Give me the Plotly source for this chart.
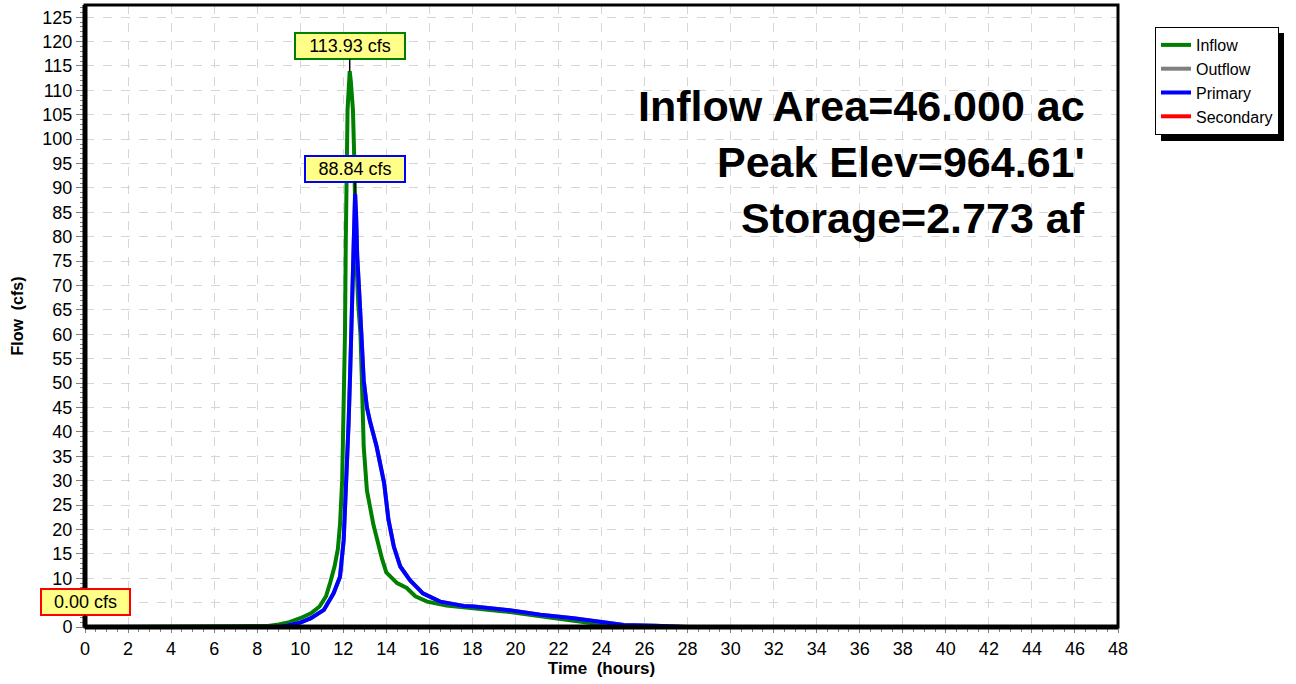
import plotly.graph_objects as go

# hydrograph values (hours, cfs)
inflow_hours = [0, 8.0, 8.5, 9.0, 9.5, 10.0, 10.5, 10.9, 11.2, 11.4, 11.6, 11.75, 11.85, 11.95,
                12.02, 12.08, 12.12, 12.16, 12.2, 12.25, 12.3, 12.35, 12.45, 12.5, 12.55, 12.6,
                12.7, 12.8, 12.87, 12.95, 13.1, 13.4, 13.8, 14.0, 14.5, 14.95, 15.35, 15.9,
                16.8, 18.0, 19.5, 21.0, 22.5, 23.5, 24.5, 25.0, 48]
inflow_cfs = [0, 0, 0.2, 0.5, 1.0, 1.8, 2.8, 4.2, 6.3, 9.2, 12.5, 16, 21, 30,
              42, 60, 80, 98, 106, 110, 113.93, 112, 106, 98, 88, 76,
              66, 60, 50, 37, 28, 21, 14, 11.2, 9.0, 8.0, 6.3, 5.2,
              4.4, 3.9, 3.2, 2.3, 1.5, 0.8, 0.2, 0, 0]

primary_hours = [0, 9.0, 9.4, 10.0, 10.5, 11.1, 11.55, 11.85, 12.02, 12.1, 12.17, 12.25,
                 12.32, 12.4, 12.45, 12.5, 12.55, 12.6, 12.65, 12.75, 12.85, 12.95, 13.1,
                 13.25, 13.55, 13.9, 14.1, 14.35, 14.65, 15.1, 15.7, 16.5, 17.6, 18.06,
                 19.6, 21.16, 22.7, 23.95, 25.04, 26.5, 27.4, 28.0, 48]
primary_cfs = [0, 0, 0.3, 0.9, 1.8, 3.5, 6.9, 10.3, 17.8, 25, 33.5, 42,
               52, 63, 72, 82, 88.84, 84, 76, 68, 60, 50.6, 45,
               42, 37, 29.5, 22, 16.5, 12.4, 9.6, 6.9, 5.2, 4.3, 4.2,
               3.5, 2.5, 1.8, 1.1, 0.4, 0.25, 0.1, 0, 0]

secondary_hours = [0, 48]
secondary_cfs = [0, 0]

# outflow = primary + secondary (secondary is zero)
outflow_hours = primary_hours
outflow_cfs = primary_cfs

peak_labels = ["113.93 cfs", "88.84 cfs", "0.00 cfs"]
info_lines = ["Inflow Area=46.000 ac", "Peak Elev=964.61'", "Storage=2.773 af"]

FONT = "Liberation Sans, Arial, sans-serif"
LW = 4

fig = go.Figure()
fig.add_trace(go.Scatter(x=inflow_hours, y=inflow_cfs, mode="lines", name="Inflow",
                         line=dict(color="#008000", width=LW)))
fig.add_trace(go.Scatter(x=outflow_hours, y=outflow_cfs, mode="lines", name="Outflow",
                         line=dict(color="#808080", width=LW)))
fig.add_trace(go.Scatter(x=primary_hours, y=primary_cfs, mode="lines", name="Primary",
                         line=dict(color="#0000ff", width=LW)))
fig.add_trace(go.Scatter(x=secondary_hours, y=secondary_cfs, mode="lines", name="Secondary",
                         line=dict(color="#ff0000", width=LW)))

# peak flags
flags = [
    (12.3, 113.93, peak_labels[0], "#008000", 104),
    (12.55, 88.84, peak_labels[1], "#0000ff", 94),
    (0, 0, peak_labels[2], "#ff0000", 83),
]
for x, y, txt, col, w in flags:
    fig.add_annotation(x=x, y=y, text=txt, showarrow=True, arrowhead=0, arrowwidth=1.5,
                       arrowcolor="black", ax=0, ay=-25, bgcolor="#ffff88",
                       bordercolor=col, borderwidth=2, borderpad=2, width=w,
                       font=dict(family=FONT, size=18, color="black"))

# summary text
for i, line in enumerate(info_lines):
    fig.add_annotation(xref="paper", yref="paper", x=0.970, y=(627 - (106 + 56 * i)) / 622,
                       xanchor="right", yanchor="middle", showarrow=False, text=line,
                       font=dict(family=FONT, size=43, color="black", weight="bold"))

# plot frame drawn over the traces
fig.add_shape(type="rect", xref="x domain", yref="y domain", x0=0, y0=0, x1=1, y1=1,
              line=dict(color="black", width=3), layer="above")
fig.add_shape(type="line", xref="x domain", yref="y domain", x0=0, y0=0, x1=1, y1=0,
              line=dict(color="black", width=5), layer="above")
fig.add_shape(type="line", xref="x domain", yref="y domain", x0=0, y0=0, x1=0, y1=1,
              line=dict(color="black", width=5), layer="above")
# legend shadow (offset ~5 px right/down from the legend box)
fig.add_shape(type="rect", xref="paper", yref="paper",
              x0=(1161 - 85) / 1033, x1=(1284 - 85) / 1033,
              y0=(627 - 141) / 622, y1=(627 - 33) / 622,
              fillcolor="black", line=dict(width=0), layer="above")

fig.update_xaxes(range=[0, 48], dtick=2, tick0=0, showline=False, zeroline=False,
                 ticks="outside", ticklen=5, tickcolor="#808080",
                 showgrid=True, gridcolor="#d6d6d6", griddash="dash", gridwidth=1,
                 minor=dict(dtick=0.5, ticks="outside", ticklen=4, tickcolor="#808080", showgrid=False),
                 tickfont=dict(family=FONT, size=18, color="black"),
                 title=dict(text="Time\u00a0 (hours)", standoff=4,
                            font=dict(family=FONT, size=17, color="black", weight="bold")))
fig.update_yaxes(range=[0, 127.5], dtick=5, tick0=0, showline=False, zeroline=False,
                 ticks="outside", ticklen=8, tickcolor="#808080",
                 showgrid=True, gridcolor="#d6d6d6", griddash="dash", gridwidth=1,
                 minor=dict(dtick=1, ticks="outside", ticklen=4, tickcolor="#808080", showgrid=False),
                 tickfont=dict(family=FONT, size=18, color="black"),
                 title=dict(text="Flow\u00a0 (cfs)", standoff=14,
                            font=dict(family=FONT, size=16, color="black", weight="bold")))

fig.update_layout(
    width=1296, height=684,
    margin=dict(l=85, r=178, t=5, b=57, autoexpand=False),
    plot_bgcolor="white", paper_bgcolor="white",
    showlegend=True,
    legend=dict(x=(1155 - 85) / 1033, y=(627 - 27) / 622, xanchor="left", yanchor="top",
                bgcolor="white", bordercolor="black", borderwidth=1,
                font=dict(family=FONT, size=16, color="black"),
                tracegroupgap=0, itemwidth=30),
)

fig.write_html("out.html", config={"displayModeBar": False},
               post_script="document.body.style.margin='0';")
